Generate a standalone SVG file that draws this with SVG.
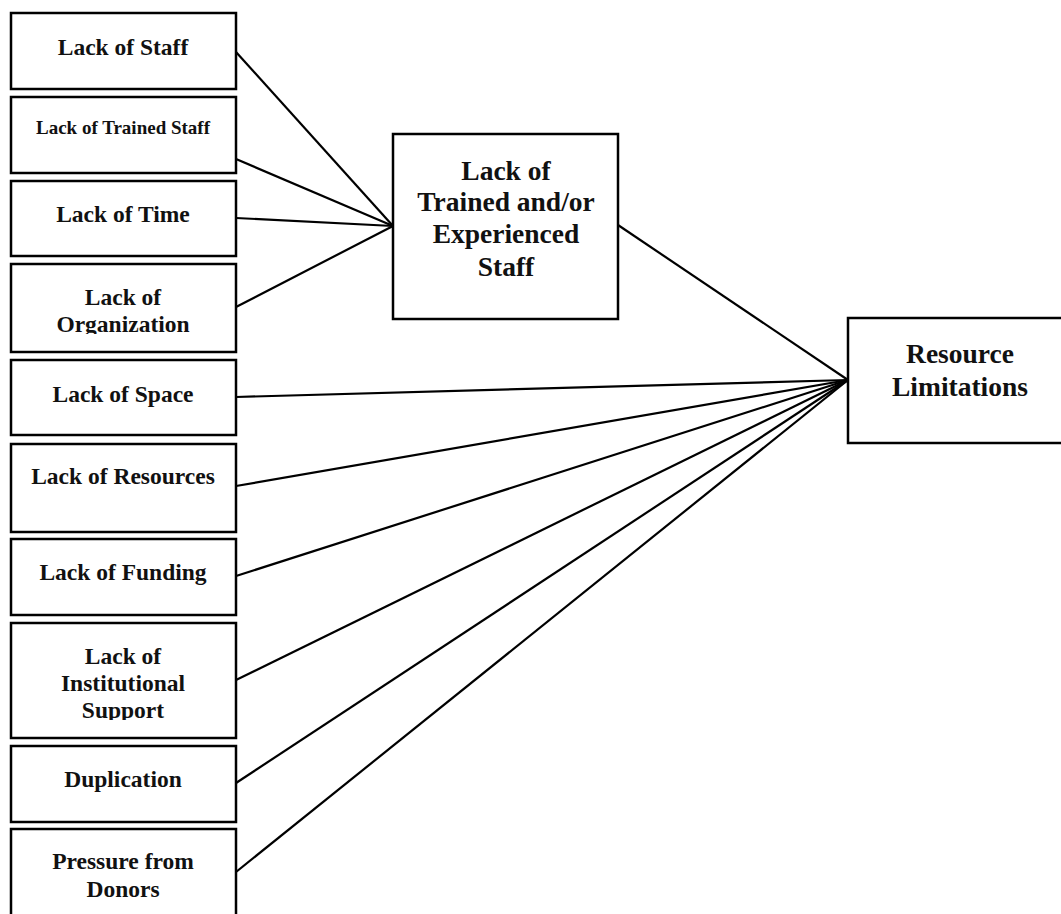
<svg xmlns="http://www.w3.org/2000/svg" width="1061" height="914" viewBox="0 0 1061 914">
<style>
.box{fill:#fff;stroke:#000;stroke-width:2.5}
.t{font-family:"Liberation Serif","Times New Roman",serif;font-weight:bold;fill:#111;text-anchor:middle}
.s{font-size:23.5px}
.m{font-size:27.5px}
.conn line{stroke:#000;stroke-width:2.2}
</style>
<defs>
<clipPath id="c4"><rect x="0" y="262" width="240" height="72"/></clipPath>
<clipPath id="c8"><rect x="0" y="620" width="240" height="100"/></clipPath>
</defs>
<rect width="1061" height="914" fill="#fff"/>
<g class="conn">
<line x1="236" y1="52" x2="393" y2="226"/>
<line x1="236" y1="159" x2="393" y2="226"/>
<line x1="236" y1="218" x2="393" y2="226"/>
<line x1="236" y1="307" x2="393" y2="226"/>
<line x1="618" y1="225" x2="848" y2="380"/>
<line x1="236" y1="397" x2="848" y2="380"/>
<line x1="236" y1="486" x2="848" y2="380"/>
<line x1="236" y1="576" x2="848" y2="380"/>
<line x1="236" y1="680" x2="848" y2="380"/>
<line x1="236" y1="783" x2="848" y2="380"/>
<line x1="236" y1="872" x2="848" y2="380"/>
</g>
<g id="n1"><rect class="box" x="11" y="13" width="225" height="76"/><text class="t s" x="123" y="55">Lack of Staff</text></g>
<g id="n2"><rect class="box" x="11" y="97" width="225" height="76"/><text class="t" style="font-size:19px" x="123" y="134">Lack of Trained Staff</text></g>
<g id="n3"><rect class="box" x="11" y="181" width="225" height="75"/><text class="t s" x="123" y="222">Lack of Time</text></g>
<g id="n4"><rect class="box" x="11" y="264" width="225" height="88"/><g clip-path="url(#c4)"><text class="t s" x="123" y="305">Lack of</text><text class="t s" x="123" y="332">Organization</text></g></g>
<g id="n5"><rect class="box" x="11" y="360" width="225" height="75"/><text class="t s" x="123" y="402">Lack of Space</text></g>
<g id="n6"><rect class="box" x="11" y="444" width="225" height="88"/><text class="t s" x="123" y="484">Lack of Resources</text></g>
<g id="n7"><rect class="box" x="11" y="539" width="225" height="76"/><text class="t s" x="123" y="580">Lack of Funding</text></g>
<g id="n8"><rect class="box" x="11" y="623" width="225" height="115"/><g clip-path="url(#c8)"><text class="t s" x="123" y="664">Lack of</text><text class="t s" x="123" y="691">Institutional</text><text class="t s" x="123" y="718">Support</text></g></g>
<g id="n9"><rect class="box" x="11" y="746" width="225" height="76"/><text class="t s" x="123" y="787">Duplication</text></g>
<g id="n10"><rect class="box" x="11" y="829" width="225" height="90"/><text class="t s" x="123" y="869">Pressure from</text><text class="t s" x="123" y="897">Donors</text></g>
<g id="mid"><rect class="box" x="393" y="134" width="225" height="185"/><text class="t m" x="506" y="180">Lack of</text><text class="t m" x="506" y="211">Trained and/or</text><text class="t m" x="506" y="243">Experienced</text><text class="t m" x="506" y="276">Staff</text></g>
<g id="res"><rect class="box" x="848" y="318" width="226" height="125"/><text class="t m" x="960" y="363">Resource</text><text class="t m" x="960" y="396">Limitations</text></g>
</svg>
